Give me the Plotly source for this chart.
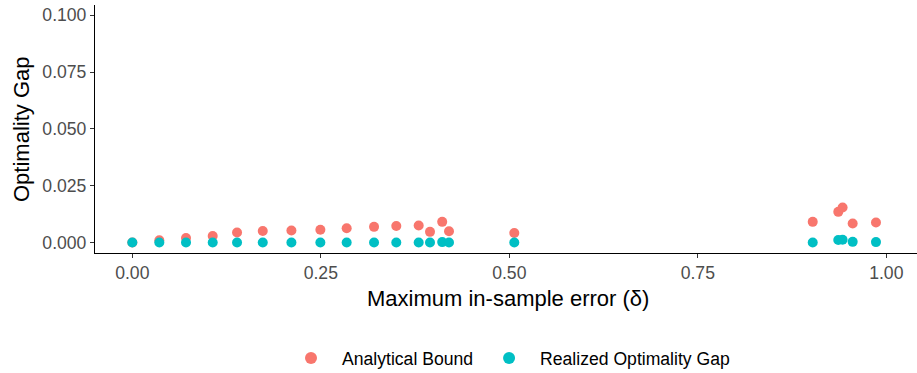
import plotly.graph_objects as go

delta = [0.0, 0.0358, 0.0712, 0.1066, 0.1389, 0.173, 0.211, 0.2494, 0.2843, 0.3206,
         0.3501, 0.3798, 0.3948, 0.411, 0.420, 0.5066,
         0.9024, 0.9363, 0.942, 0.9554, 0.9863]
analytical = [0.0, 0.0010, 0.0020, 0.0029, 0.0044, 0.0051, 0.0053, 0.0056, 0.0063, 0.0069,
              0.0073, 0.0075, 0.0047, 0.0091, 0.0050, 0.0042,
              0.0091, 0.0135, 0.0154, 0.0084, 0.0088]
realized = [0.0, 0.0, 0.0, 0.0, 0.0, 0.0, 0.0, 0.0, 0.0, 0.0,
            0.0, 0.0, 0.0, 0.0002, 0.0, 0.0,
            0.0, 0.0011, 0.0012, 0.0003, 0.0002]

x_ticks = [0, 0.25, 0.5, 0.75, 1.0]
x_tick_labels = ["0.00", "0.25", "0.50", "0.75", "1.00"]
y_ticks = [0, 0.025, 0.05, 0.075, 0.1]
y_tick_labels = ["0.000", "0.025", "0.050", "0.075", "0.100"]

RED = "#F8766D"
CYAN = "#00BFC4"
FONT = "Liberation Sans, Arial, sans-serif"

W, H = 917, 373
ML, MR, MT, MB = 95, 0, 5, 120
PW, PH = W - ML - MR, H - MT - MB

fig = go.Figure()
fig.add_trace(go.Scatter(x=delta, y=analytical, mode="markers", name="Analytical Bound",
                         marker=dict(color=RED, size=10, line=dict(width=0))))
fig.add_trace(go.Scatter(x=delta, y=realized, mode="markers", name="Realized Optimality Gap",
                         marker=dict(color=CYAN, size=10, line=dict(width=0))))

fig.update_layout(
    width=W, height=H,
    margin=dict(l=ML, r=MR, t=MT, b=MB, autoexpand=False),
    paper_bgcolor="white", plot_bgcolor="white",
    font=dict(family=FONT, size=17.6, color="black"),
    showlegend=True,
    legend=dict(orientation="h", x=(280 - ML) / PW, xanchor="left",
                y=(MT + PH - 358) / PH, yanchor="middle",
                font=dict(size=17.6, color="black"), itemsizing="constant",
                itemwidth=52),
)
fig.update_xaxes(
    range=[-0.0495, 1.0407], tickvals=x_ticks, ticktext=x_tick_labels,
    showgrid=False, zeroline=False, showline=True, linecolor="black", linewidth=1.2,
    ticks="outside", ticklen=4, tickcolor="#333333", tickwidth=1,
    tickfont=dict(size=17.6, color="#4D4D4D"), automargin=False,
)
fig.update_yaxes(
    range=[-0.0046, 0.1045], tickvals=y_ticks, ticktext=y_tick_labels,
    showgrid=False, zeroline=False, showline=True, linecolor="black", linewidth=1.2,
    ticks="outside", ticklen=4, tickcolor="#333333", tickwidth=1,
    tickfont=dict(size=17.6, color="#4D4D4D"), automargin=False,
)
fig.add_annotation(text="Maximum in-sample error (δ)", xref="paper", yref="paper",
                   x=(508 - ML) / PW, y=(MT + PH - 298) / PH, xanchor="center", yanchor="middle",
                   showarrow=False, font=dict(size=22, color="black"))
fig.add_annotation(text="Optimality Gap", xref="paper", yref="paper",
                   x=(21 - ML) / PW, y=(MT + PH - 129) / PH, xanchor="center", yanchor="middle",
                   textangle=-90, showarrow=False, font=dict(size=22, color="black"))

fig.write_html("out.html", config={"displayModeBar": False},
               post_script="document.body.style.margin='0';")
